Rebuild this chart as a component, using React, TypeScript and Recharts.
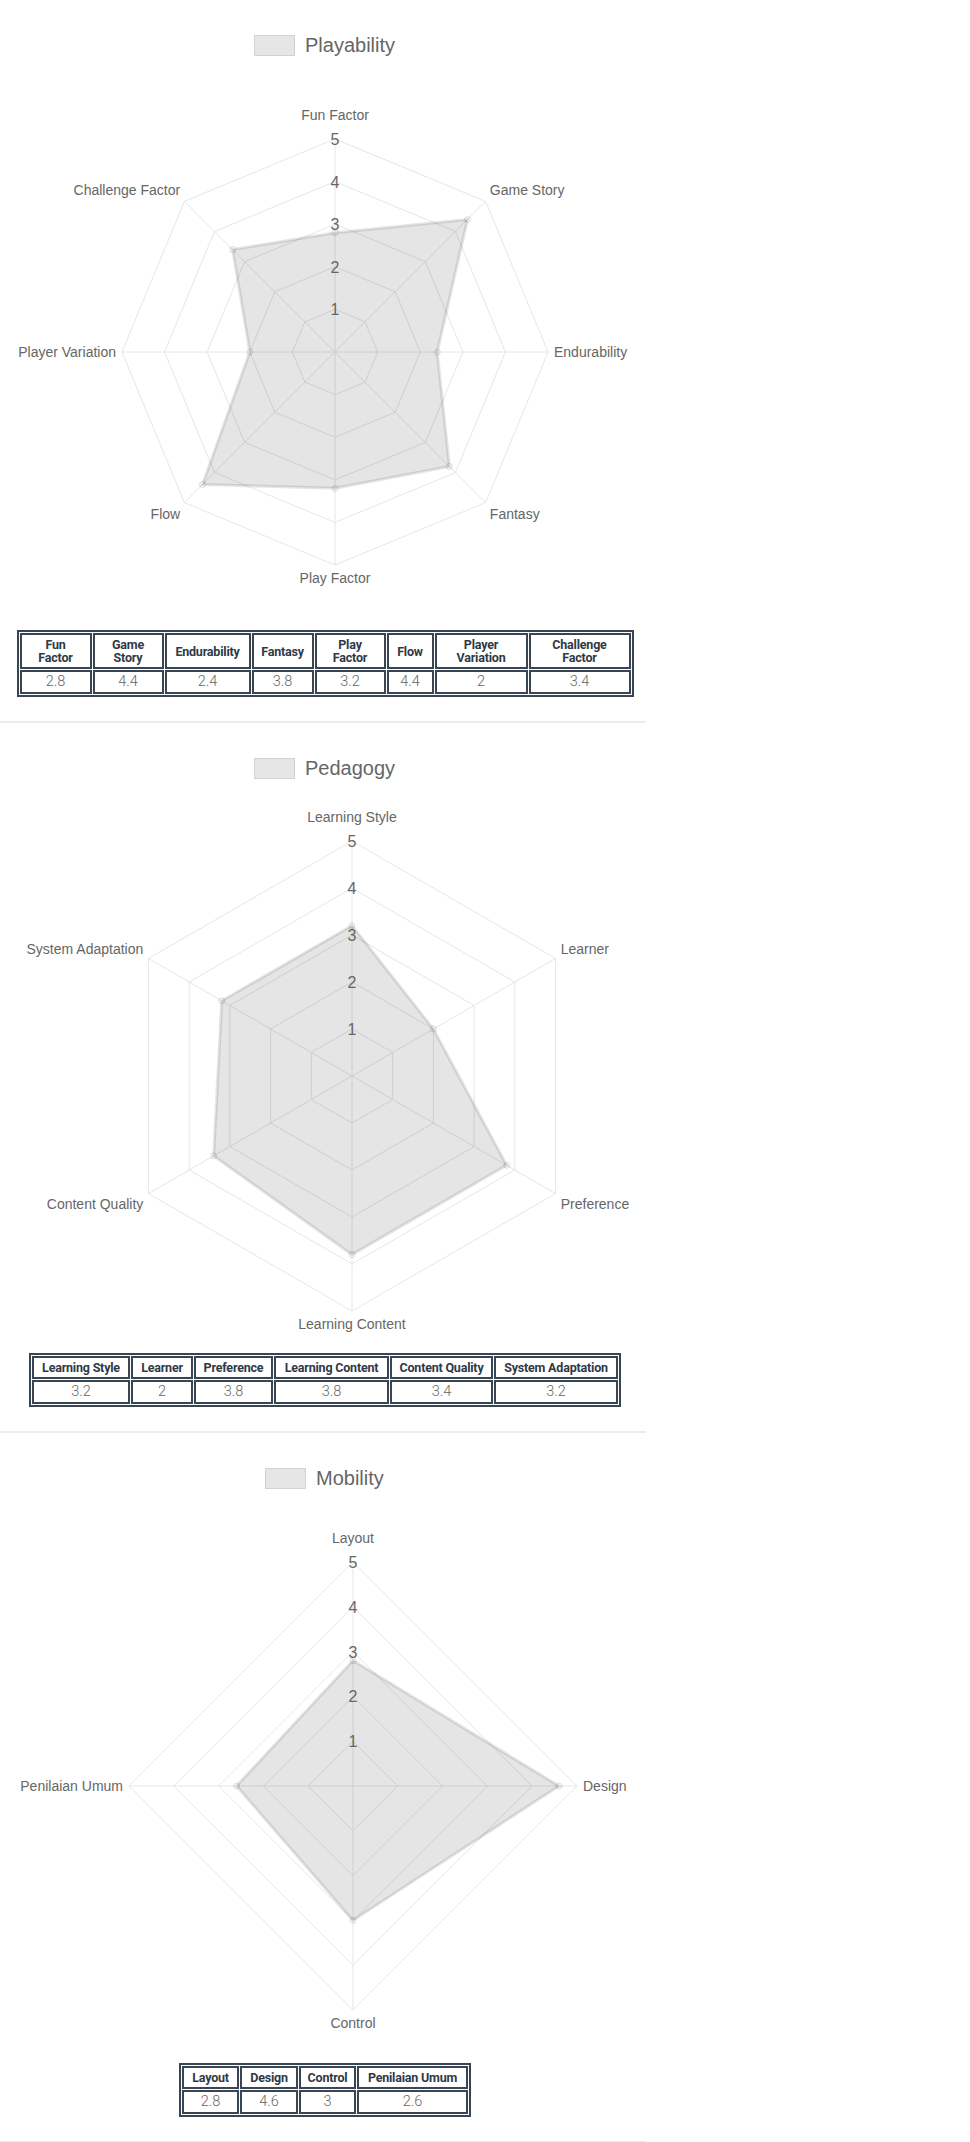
import React from 'react';
import { RadarChart, Radar, PolarGrid, PolarAngleAxis, PolarRadiusAxis } from 'recharts';

// data
const playabilityLabels = ['Fun Factor', 'Game Story', 'Endurability', 'Fantasy', 'Play Factor', 'Flow', 'Player Variation', 'Challenge Factor'];
const playabilityValues = [2.8, 4.4, 2.4, 3.8, 3.2, 4.4, 2, 3.4];

const pedagogyLabels = ['Learning Style', 'Learner', 'Preference', 'Learning Content', 'Content Quality', 'System Adaptation'];
const pedagogyValues = [3.2, 2, 3.8, 3.8, 3.4, 3.2];

const mobilityLabels = ['Layout', 'Design', 'Control', 'Penilaian Umum'];
const mobilityValues = [2.8, 4.6, 3, 2.6];

const scaleDomain: [number, number] = [0, 5];

const CHART_FONT = '"Helvetica Neue", Helvetica, Arial, "Liberation Sans", sans-serif';
const TABLE_FONT = 'Roboto, "Noto Sans", sans-serif';
const BORDER = '#3a4554';
const TEXT = '#666';

function makeAngleTick(cx: number, cy: number, r: number) {
  return (props: any) => {
    const { x, y, payload } = props;
    const dx = x - cx;
    const dy = y - cy;
    const len = Math.hypot(dx, dy) || 1;
    const ux = dx / len;
    const uy = dy / len;
    const isTop = uy < -0.99;
    const d = r + 6 + (isTop ? 11 : 0);
    const px = cx + ux * d;
    const py = cy + uy * d;
    const anchor = ux > 0.01 ? 'start' : ux < -0.01 ? 'end' : 'middle';
    let ty = py + 5;
    if (uy < -0.01) ty = py - 2;
    else if (uy > 0.01) ty = py + 12;
    return (
      <text x={px} y={ty} textAnchor={anchor} fontSize={14} fill={TEXT} fontFamily={CHART_FONT}>
        {payload.value}
      </text>
    );
  };
}

const RadiusTick = (props: any) => {
  const { x, y, payload } = props;
  if (payload.value === 0) return null;
  return (
    <text x={x} y={y + 6} textAnchor="middle" fontSize={16} fill={TEXT} fontFamily={CHART_FONT}>
      {payload.value}
    </text>
  );
};

function Legend({ name, left }: { name: string; left: number }) {
  return (
    <div style={{ position: 'absolute', left, top: 34, display: 'flex', alignItems: 'center', height: 22 }}>
      <div style={{ width: 39, height: 19, background: '#e6e6e6', border: '1.5px solid #d2d2d2' }} />
      <span style={{ marginLeft: 10, fontFamily: CHART_FONT, fontSize: 20, color: TEXT, lineHeight: '22px' }}>{name}</span>
    </div>
  );
}

function ScoreTable({ labels, values, widths, wrap }: { labels: string[]; values: number[]; widths: number[]; wrap?: boolean }) {
  const cell: React.CSSProperties = {
    border: `2px solid ${BORDER}`,
    boxSizing: 'border-box',
    textAlign: 'center',
    verticalAlign: 'middle',
  };
  return (
    <table
      style={{
        borderCollapse: 'separate',
        borderSpacing: 1,
        border: `2px solid ${BORDER}`,
        margin: '0 auto',
        fontFamily: TABLE_FONT,
      }}
    >
      <tbody>
        <tr>
          {labels.map((l, i) => (
            <th
              key={l}
              style={{
                ...cell,
                width: widths[i],
                fontWeight: 700,
                fontSize: 12.5,
                letterSpacing: '-0.2px',
                lineHeight: '13px',
                padding: '3px 2px',
                color: '#2f3947',
                whiteSpace: wrap ? 'normal' : 'nowrap',
              }}
            >
              {wrap ? <div style={{ width: 'min-content', margin: '0 auto' }}>{l}</div> : l}
            </th>
          ))}
        </tr>
        <tr>
          {values.map((v, i) => (
            <td
              key={i}
              style={{
                ...cell,
                fontWeight: 300,
                fontSize: 14.5,
                lineHeight: '16px',
                padding: '2px 3px',
                color: '#666',
              }}
            >
              {v}
            </td>
          ))}
        </tr>
      </tbody>
    </table>
  );
}

function RadarSection(props: {
  title: string;
  labels: string[];
  values: number[];
  cx: number;
  cy: number;
  r: number;
  legendLeft: number;
  colWidths: number[];
  wrap?: boolean;
}) {
  const { title, labels, values, cx, cy, r, legendLeft, colWidths, wrap } = props;
  const data = labels.map((name, i) => ({ name, value: values[i] }));
  return (
    <div style={{ width: 650 }}>
      <div style={{ position: 'relative', width: 650, height: 630 }}>
        <Legend name={title} left={legendLeft} />
        <div style={{ position: 'absolute', left: 0, top: 0, width: 640, height: 630 }}>
          <RadarChart width={640} height={630} data={data} cx={cx} cy={cy} outerRadius={r} margin={{ top: 0, right: 0, bottom: 0, left: 0 }}>
            <PolarGrid gridType="polygon" stroke="#e6e6e6" strokeWidth={1} />
            <PolarAngleAxis dataKey="name" tick={makeAngleTick(cx, cy, r)} tickLine={false} axisLine={false} />
            <PolarRadiusAxis angle={90} domain={scaleDomain} tickCount={6} axisLine={false} tick={RadiusTick} />
            <Radar
              dataKey="value"
              name={title}
              fill="#000"
              fillOpacity={0.1}
              stroke="rgba(0,0,0,0.1)"
              strokeWidth={3}
              dot={{ r: 3, fill: 'rgba(0,0,0,0.12)', stroke: 'rgba(0,0,0,0.12)', strokeWidth: 1 }}
              isAnimationActive={false}
            />
          </RadarChart>
        </div>
      </div>
      <ScoreTable labels={labels} values={values} widths={colWidths} wrap={wrap} />
      <div style={{ height: 24 }} />
      <div style={{ width: 646, height: 2, background: '#ececec' }} />
    </div>
  );
}

export default function App() {
  return (
    <div style={{ width: 970, background: '#fff' }}>
      <style>{'body{margin:0;background:#fff}'}</style>
      <RadarSection
        title="Playability"
        labels={playabilityLabels}
        values={playabilityValues}
        cx={335}
        cy={352}
        r={213}
        legendLeft={254}
        colWidths={[72, 71, 86, 62, 71, 47, 93, 102]}
        wrap
      />
      <RadarSection
        title="Pedagogy"
        labels={pedagogyLabels}
        values={pedagogyValues}
        cx={352}
        cy={353}
        r={235}
        legendLeft={254}
        colWidths={[98, 62, 79, 115, 103, 124]}
      />
      <RadarSection
        title="Mobility"
        labels={mobilityLabels}
        values={mobilityValues}
        cx={353}
        cy={353}
        r={224}
        legendLeft={265}
        colWidths={[57, 58, 57, 111]}
      />
    </div>
  );
}
